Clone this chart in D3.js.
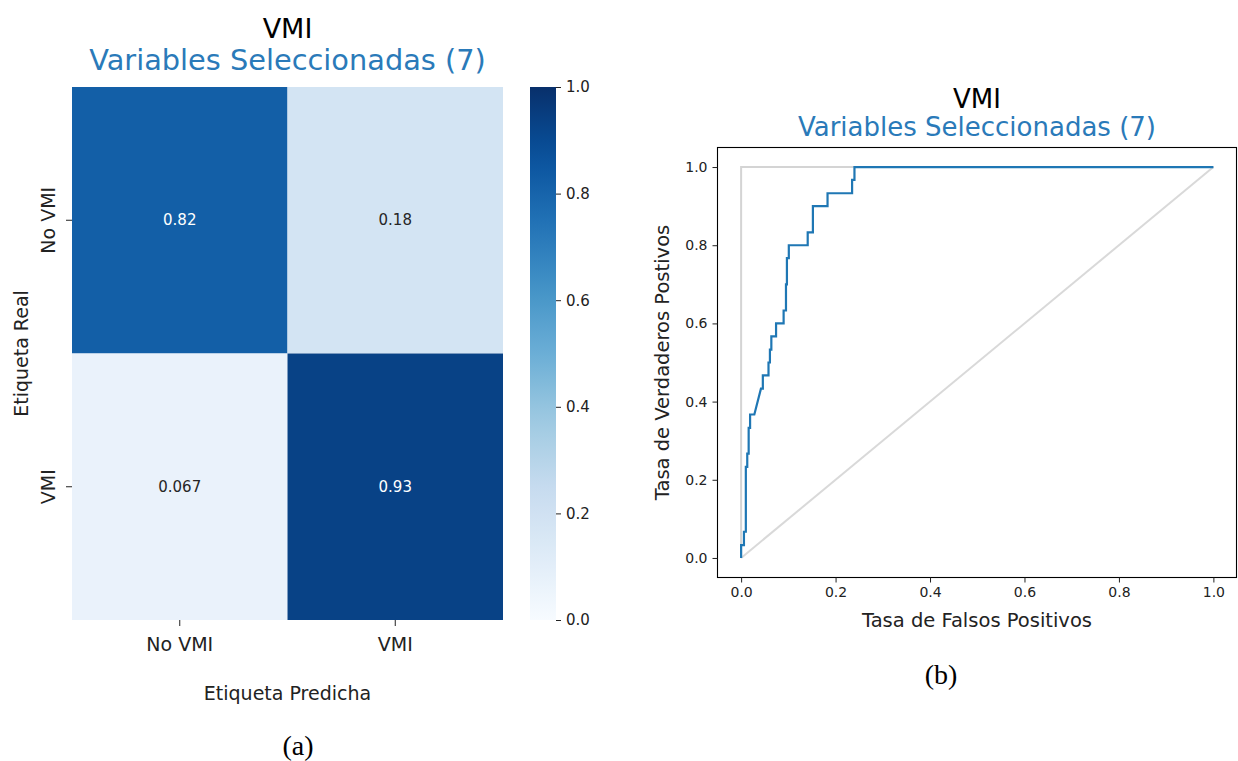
<!DOCTYPE html>
<html>
<head>
<meta charset="utf-8">
<script src="https://cdn.jsdelivr.net/npm/d3@7"></script>
<style>
  html, body { margin: 0; padding: 0; background: #fff; }
  svg { display: block; font-family: "DejaVu Sans", sans-serif; }
</style>
</head>
<body>
<svg id="fig" width="1238" height="761"></svg>
<script>
// ---- data ----
const classes = ["No VMI", "VMI"];
const cmValues = [
  [0.82, 0.18],
  [0.067, 0.93]
];
const colorbarTicks = [0, 0.2, 0.4, 0.6, 0.8, 1.0];
const rocTicks = [0, 0.2, 0.4, 0.6, 0.8, 1.0];

// ROC curve (false positive rate, true positive rate)
const rocFpr = [0, 0, 0.006, 0.006, 0.010, 0.010, 0.013, 0.013, 0.016, 0.016,
  0.019, 0.019, 0.028, 0.042, 0.046, 0.046, 0.058, 0.058, 0.061, 0.061,
  0.064, 0.064, 0.074, 0.074, 0.090, 0.090, 0.095, 0.095, 0.097, 0.097,
  0.101, 0.101, 0.141, 0.141, 0.152, 0.152, 0.183, 0.183, 0.235, 0.235,
  0.240, 0.240, 1.0];
const rocTpr = [0, 0.033, 0.033, 0.067, 0.067, 0.233, 0.233, 0.267, 0.267, 0.333,
  0.333, 0.367, 0.367, 0.433, 0.433, 0.467, 0.467, 0.5, 0.5, 0.533,
  0.533, 0.567, 0.567, 0.6, 0.6, 0.633, 0.633, 0.7, 0.7, 0.767,
  0.767, 0.8, 0.8, 0.833, 0.833, 0.9, 0.9, 0.933, 0.933, 0.967,
  0.967, 1.0, 1.0];
// reference lines: ideal classifier and chance diagonal
const idealFpr = [0, 0, 1];
const idealTpr = [0, 1, 1];
const chanceFpr = [0, 1];
const chanceTpr = [0, 1];

const svg = d3.select("#fig");
const subColor = "#2a7ab9";
const textColor = "#222";

// Blues colour map (ColorBrewer 9-class, linear in RGB)
const bluesStops = ["#f7fbff", "#deebf7", "#c6dbef", "#9ecae1", "#6baed6",
                    "#4292c6", "#2171b5", "#08519c", "#08306b"];
const color = d3.scaleLinear()
  .domain(d3.range(9).map(i => i / 8))
  .range(bluesStops)
  .interpolate(d3.interpolateRgb);

// ================= (a) confusion matrix =================
const hm = { left: 72, right: 503, top: 87, bottom: 620 };
const xB = d3.scaleBand().domain(classes).range([hm.left, hm.right]);
const yB = d3.scaleBand().domain(classes).range([hm.top, hm.bottom]);

const cells = [];
classes.forEach((r, i) => classes.forEach((c, j) => cells.push({ r, c, v: cmValues[i][j] })));

const gA = svg.append("g");
gA.selectAll("rect.cell").data(cells).join("rect")
  .attr("class", "cell")
  .attr("x", d => xB(d.c)).attr("y", d => yB(d.r))
  .attr("width", xB.bandwidth()).attr("height", yB.bandwidth())
  .attr("fill", d => color(d.v));

const fmt = d3.format(".2g");
gA.selectAll("text.ann").data(cells).join("text")
  .attr("class", "ann")
  .attr("x", d => xB(d.c) + xB.bandwidth() / 2)
  .attr("y", d => yB(d.r) + yB.bandwidth() / 2)
  .attr("text-anchor", "middle").attr("dominant-baseline", "central")
  .attr("font-size", 15)
  .attr("fill", d => d.v > 0.5 ? "#ffffff" : "#262626")
  .text(d => fmt(d.v));

// axes of heatmap (no domain line)
const xAxA = gA.append("g").attr("transform", `translate(0,${hm.bottom})`)
  .call(d3.axisBottom(xB).tickSize(6).tickPadding(12));
xAxA.select(".domain").remove();
xAxA.selectAll("text").attr("font-size", 19).attr("fill", textColor).attr("font-family", "DejaVu Sans");
xAxA.selectAll("line").attr("stroke", textColor);

const yAxA = gA.append("g").attr("transform", `translate(${hm.left},0)`)
  .call(d3.axisLeft(yB).tickSize(6).tickPadding(8));
yAxA.select(".domain").remove();
yAxA.selectAll("line").attr("stroke", textColor);
yAxA.selectAll("text")
  .attr("font-size", 19).attr("fill", textColor).attr("font-family", "DejaVu Sans")
  .attr("text-anchor", "middle").attr("dy", null)
  .attr("transform", "translate(-24,0) rotate(-90)")
  .attr("x", 0).attr("y", 0).attr("dominant-baseline", "central");

gA.append("text").attr("x", (hm.left + hm.right) / 2).attr("y", 700)
  .attr("text-anchor", "middle").attr("font-size", 19).attr("fill", textColor)
  .text("Etiqueta Predicha");
gA.append("text").attr("transform", `translate(28,${(hm.top + hm.bottom) / 2}) rotate(-90)`)
  .attr("text-anchor", "middle").attr("font-size", 19).attr("fill", textColor)
  .text("Etiqueta Real");

gA.append("text").attr("x", (hm.left + hm.right) / 2).attr("y", 38)
  .attr("text-anchor", "middle").attr("font-size", 27).attr("fill", "#000").text("VMI");
gA.append("text").attr("x", (hm.left + hm.right) / 2).attr("y", 70)
  .attr("text-anchor", "middle").attr("font-size", 28.8).attr("fill", subColor)
  .text("Variables Seleccionadas (7)");

// colour bar
const cb = { left: 530, width: 26 };
const cbScale = d3.scaleLinear().domain([0, 1]).range([hm.bottom, hm.top]);
const defs = svg.append("defs");
const grad = defs.append("linearGradient").attr("id", "bluesGrad")
  .attr("x1", 0).attr("y1", 1).attr("x2", 0).attr("y2", 0);
d3.range(0, 1.0001, 0.05).forEach(t => {
  grad.append("stop").attr("offset", t).attr("stop-color", color(t));
});
gA.append("rect").attr("x", cb.left).attr("y", hm.top)
  .attr("width", cb.width).attr("height", hm.bottom - hm.top)
  .attr("fill", "url(#bluesGrad)");
const cbAx = gA.append("g").attr("transform", `translate(${cb.left + cb.width},0)`)
  .call(d3.axisRight(cbScale).tickValues(colorbarTicks).tickFormat(d3.format(".1f")).tickSize(5).tickPadding(5));
cbAx.select(".domain").remove();
cbAx.selectAll("text").attr("font-size", 15).attr("fill", textColor).attr("font-family", "DejaVu Sans");
cbAx.selectAll("line").attr("stroke", textColor);

svg.append("text").attr("x", 298).attr("y", 755)
  .attr("text-anchor", "middle").attr("font-size", 28)
  .attr("font-family", "Liberation Serif, serif").attr("fill", "#000").text("(a)");

// ================= (b) ROC curve =================
const rc = { left: 717.5, right: 1237, top: 147.5, bottom: 577.5 };
const x = d3.scaleLinear().domain([-0.05, 1.05]).range([rc.left, rc.right]);
const y = d3.scaleLinear().domain([-0.05, 1.05]).range([rc.bottom, rc.top]);
const gB = svg.append("g");

const line = d3.line().x(d => x(d[0])).y(d => y(d[1]));
const zip = (a, b) => a.map((v, i) => [v, b[i]]);

gB.append("path").datum(zip(idealFpr, idealTpr)).attr("d", line)
  .attr("fill", "none").attr("stroke", "#d4d4d4").attr("stroke-width", 2);
gB.append("path").datum(zip(chanceFpr, chanceTpr)).attr("d", line)
  .attr("fill", "none").attr("stroke", "#d9d9d9").attr("stroke-width", 2);
gB.append("path").datum(zip(rocFpr, rocTpr)).attr("d", line)
  .attr("fill", "none").attr("stroke", "#1f77b4").attr("stroke-width", 2.2)
  .attr("stroke-linejoin", "miter");

gB.append("rect").attr("x", rc.left).attr("y", rc.top)
  .attr("width", rc.right - rc.left - 0.5).attr("height", rc.bottom - rc.top)
  .attr("fill", "none").attr("stroke", "#000").attr("stroke-width", 1.1);

const xAxB = gB.append("g").attr("transform", `translate(0,${rc.bottom})`)
  .call(d3.axisBottom(x).tickValues(rocTicks).tickFormat(d3.format(".1f")).tickSize(5).tickPadding(5));
xAxB.select(".domain").remove();
xAxB.selectAll("text").attr("font-size", 14).attr("fill", textColor).attr("font-family", "DejaVu Sans");
xAxB.selectAll("line").attr("stroke", textColor);

const yAxB = gB.append("g").attr("transform", `translate(${rc.left},0)`)
  .call(d3.axisLeft(y).tickValues(rocTicks).tickFormat(d3.format(".1f")).tickSize(5).tickPadding(5));
yAxB.select(".domain").remove();
yAxB.selectAll("text").attr("font-size", 14).attr("fill", textColor).attr("font-family", "DejaVu Sans");
yAxB.selectAll("line").attr("stroke", textColor);

gB.append("text").attr("x", 977).attr("y", 627)
  .attr("text-anchor", "middle").attr("font-size", 19.5).attr("fill", textColor)
  .text("Tasa de Falsos Positivos");
gB.append("text").attr("transform", `translate(669,${(rc.top + rc.bottom) / 2}) rotate(-90)`)
  .attr("text-anchor", "middle").attr("font-size", 19.5).attr("fill", textColor)
  .text("Tasa de Verdaderos Postivos");

gB.append("text").attr("x", 977).attr("y", 108)
  .attr("text-anchor", "middle").attr("font-size", 26).attr("fill", "#000").text("VMI");
gB.append("text").attr("x", 977).attr("y", 136)
  .attr("text-anchor", "middle").attr("font-size", 26).attr("fill", subColor)
  .text("Variables Seleccionadas (7)");

svg.append("text").attr("x", 941).attr("y", 684)
  .attr("text-anchor", "middle").attr("font-size", 28)
  .attr("font-family", "Liberation Serif, serif").attr("fill", "#000").text("(b)");
</script>
</body>
</html>
